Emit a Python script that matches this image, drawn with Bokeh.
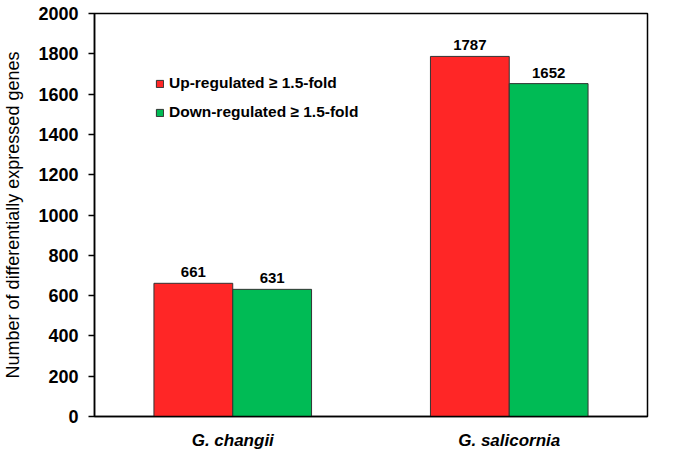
from bokeh.plotting import figure
from bokeh.models import FactorRange, ColumnDataSource, Legend, LegendItem, LabelSet, FixedTicker
from bokeh.transform import dodge
from bokeh.core.properties import value
from bokeh.embed import file_html
from bokeh.resources import INLINE

species = ["G. changii", "G. salicornia"]
up = [661, 1787]
down = [631, 1652]
yticks = [0, 200, 400, 600, 800, 1000, 1200, 1400, 1600, 1800, 2000]

src = ColumnDataSource(dict(sp=species, up=up, down=down,
                            up_t=[str(v) for v in up], down_t=[str(v) for v in down]))

p = figure(width=667, height=453, x_range=FactorRange(*species), y_range=(0, 2000),
           output_backend="svg", toolbar_location=None,
           min_border_left=93, min_border_top=13, min_border_right=20, min_border_bottom=37)

r_up = p.vbar(x=dodge("sp", -0.1425, range=p.x_range), top="up", width=0.285, source=src,
              fill_color="#ff2626", line_color="#333333", line_width=1)
r_dn = p.vbar(x=dodge("sp", 0.1425, range=p.x_range), top="down", width=0.285, source=src,
              fill_color="#00bb55", line_color="#333333", line_width=1)

for col, ycol, off in (("up_t", "up", -0.1425), ("down_t", "down", 0.1425)):
    p.add_layout(LabelSet(x=dodge("sp", off, range=p.x_range), y=ycol, text=col, source=src,
                          y_offset=6, text_align="center", text_baseline="bottom",
                          text_font=value("Liberation Sans"), text_font_style="bold",
                          text_font_size="15px", text_color="black"))

p.xgrid.visible = False
p.ygrid.visible = False
p.outline_line_color = "black"
p.outline_line_width = 1.5
p.outline_line_alpha = 1

p.yaxis.ticker = FixedTicker(ticks=yticks)
p.yaxis.minor_tick_line_color = None
p.yaxis.major_tick_out = 6
p.yaxis.major_tick_in = 0
p.yaxis.axis_line_width = 1.5
p.yaxis.major_tick_line_width = 1.5
p.yaxis.major_label_text_font = "Liberation Sans"
p.yaxis.major_label_text_font_style = "bold"
p.yaxis.major_label_text_font_size = "18px"
p.yaxis.major_label_text_color = "black"
p.yaxis.major_label_standoff = 10
p.yaxis.axis_label = "Number of differentially expressed genes"
p.yaxis.axis_label_text_font = "Liberation Sans"
p.yaxis.axis_label_text_font_style = "normal"
p.yaxis.axis_label_text_font_size = "18px"
p.yaxis.axis_label_text_color = "black"
p.yaxis.axis_label_standoff = 12

p.xaxis.major_tick_line_color = None
p.xaxis.minor_tick_line_color = None
p.xaxis.axis_line_width = 1.5
p.xaxis.major_label_text_font = "Liberation Sans"
p.xaxis.major_label_text_font_style = "bold italic"
p.xaxis.major_label_text_font_size = "17px"
p.xaxis.major_label_text_color = "black"
p.xaxis.major_label_standoff = 8

legend = Legend(items=[LegendItem(label="Up-regulated \u2265 1.5-fold", renderers=[r_up]),
                       LegendItem(label="Down-regulated \u2265 1.5-fold", renderers=[r_dn])],
                location=(61, 294), padding=0, margin=0, spacing=9,
                glyph_width=9, glyph_height=9, label_height=20, label_standoff=5,
                label_text_font="Liberation Sans", label_text_font_style="bold",
                label_text_font_size="15.5px", label_text_color="black",
                border_line_alpha=0, background_fill_alpha=0)
p.add_layout(legend)

open("out.html", "w").write(file_html(p, INLINE))
